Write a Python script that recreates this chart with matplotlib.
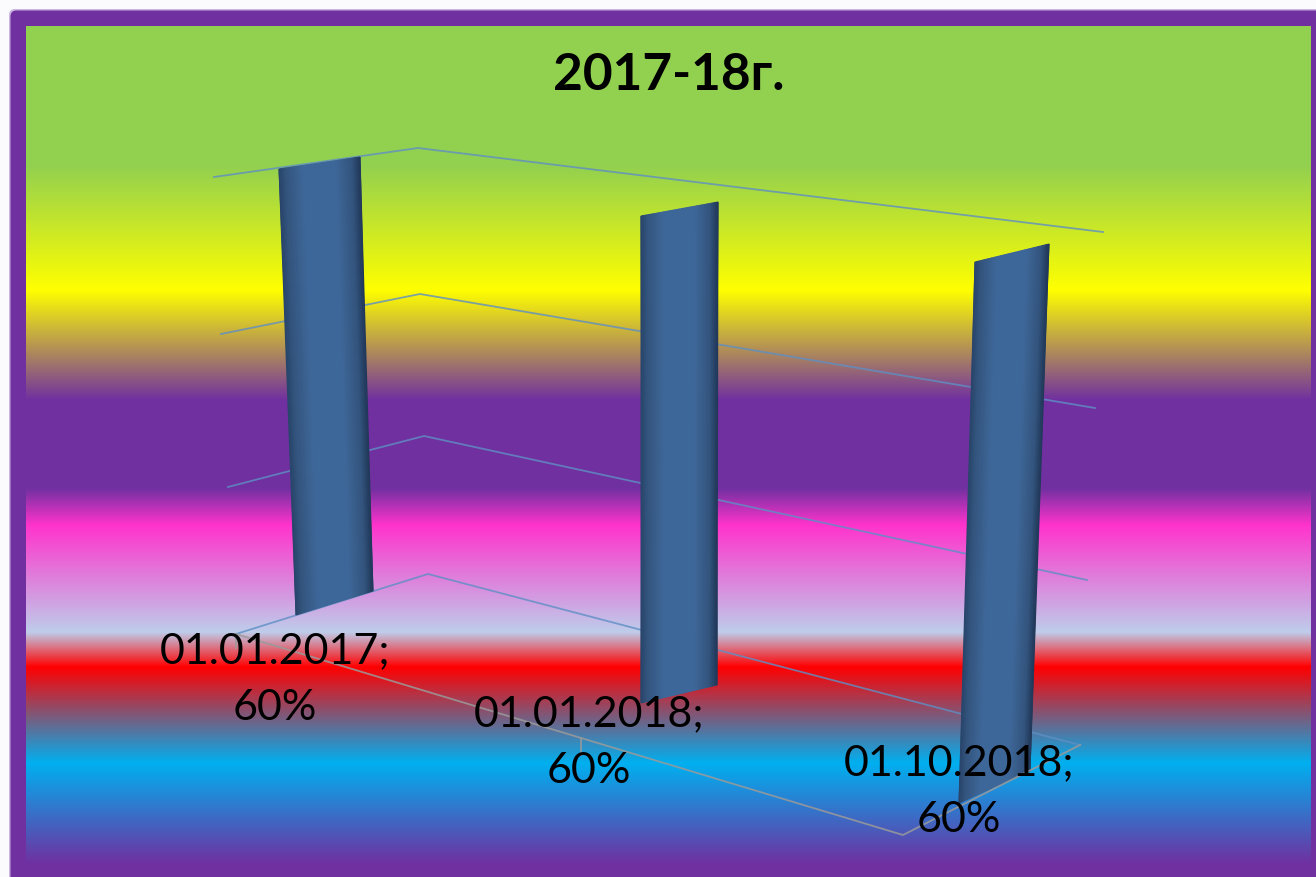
import numpy as np
import matplotlib
matplotlib.use("Agg")
import matplotlib.pyplot as plt
from matplotlib.colors import LinearSegmentedColormap
from matplotlib.patches import FancyBboxPatch

# ---- data ----
title = "2017-18г."
categories = ["01.01.2017", "01.01.2018", "01.10.2018"]
values = [60, 60, 60]
axis_ticks = [0, 20, 40, 60]

# ---- layout (pixel geometry of the 3-D projection) ----
W, H = 1316, 877
wall_px = {60: [(214, 177), (418, 148), (1103, 232)],
           40: [(221, 334), (420, 294), (1095, 408)],
           20: [(228, 487), (424, 436), (1087, 580)],
           0:  [(236, 634), (428, 574), (1080, 745)]}
floor_px = [(236, 634), (903, 835), (1080, 745)]
tick_px = [((236, 634), (236, 648)), ((581, 738), (581, 755))]
bar_base = [((296, 615), (373, 591)), ((641, 703), (717, 685)), ((959, 803), (1030, 771))]
bar_top = [((279, 169), (360, 157)), ((641, 216), (718, 202)), ((975, 262), (1049, 244))]
label_px = [(275, 680), (589, 743), (959, 792)]
panel = (26, 26, 1311, 864)

bg_stops = [(26, (146, 208, 80)), (165, (146, 208, 80)), (290, (255, 255, 0)),
            (400, (112, 48, 160)), (488, (112, 48, 160)), (525, (255, 51, 204)),
            (632, (190, 205, 235)), (667, (255, 0, 0)), (763, (0, 176, 240)),
            (864, (112, 48, 160))]
purple = "#7030A0"
shade_pos = [0, .08, .3, .7, .9, 1]
shade_col = [(.16, .27, .42), (.20, .33, .49), (.245, .405, .60),
             (.245, .405, .60), (.20, .33, .49), (.13, .22, .35)]
bar_cmap = LinearSegmentedColormap.from_list("bar", list(zip(shade_pos, shade_col)), N=512)

plt.rcParams["font.family"] = ["Lato", "DejaVu Sans"]
fig = plt.figure(figsize=(W / 100, H / 100), dpi=100, facecolor="#FBFBFD")
ax = fig.add_axes([0, 0, 1, 1])
ax.axis("off")

# frame
ax.add_patch(FancyBboxPatch((9, 9), W + 30, H + 30, boxstyle="round,pad=0,rounding_size=6",
                            fc="#C9B4E0", ec="none", zorder=0))
ax.add_patch(FancyBboxPatch((10.5, 10.5), W + 30, H + 30, boxstyle="round,pad=0,rounding_size=6",
                            fc=purple, ec="none", zorder=0.5))

# background gradient
ys = np.arange(panel[1], panel[3]) + 0.5
sp = [s[0] for s in bg_stops]
grad = np.stack([np.interp(ys, sp, [s[1][c] / 255 for s in bg_stops]) for c in range(3)], axis=1)[:, None, :]
grad = np.repeat(grad, 4, axis=1)
ax.imshow(grad, extent=(panel[0], panel[2], panel[3], panel[1]), aspect="auto", zorder=1,
          interpolation="nearest")
ax.set_xlim(0, W)
ax.set_ylim(H, 0)

# wall gridlines
for t in axis_ticks:
    xs, yy = zip(*wall_px[t])
    ax.plot(xs, yy, color="#5F8FC4", lw=1.3, alpha=.8, zorder=2, solid_joinstyle="miter")

# bars, with a cylinder-like shading across the width
top_tick = max(axis_ticks)
for v, base, top in zip(values, bar_base, bar_top):
    bl, br = np.array(base[0], float), np.array(base[1], float)
    tl = bl + (np.array(top[0], float) - bl) * v / top_tick
    tr = br + (np.array(top[1], float) - br) * v / top_tick
    f = np.linspace(0, 1, 41)
    X = np.vstack([bl[0] + (br[0] - bl[0]) * f, tl[0] + (tr[0] - tl[0]) * f])
    Y = np.vstack([bl[1] + (br[1] - bl[1]) * f, tl[1] + (tr[1] - tl[1]) * f])
    C = np.vstack([f, f])
    ax.pcolormesh(X, Y, C, shading="gouraud", cmap=bar_cmap, vmin=0, vmax=1, zorder=3)
ax.set_xlim(0, W)
ax.set_ylim(H, 0)

# floor edges and ticks
xs, yy = zip(*floor_px)
ax.plot(xs, yy, color="#9A9A9A", lw=1.3, alpha=.85, zorder=4, solid_joinstyle="miter")
for p, q in tick_px:
    ax.plot([p[0], q[0]], [p[1], q[1]], color="#9A9A9A", lw=1.3, alpha=.85, zorder=4)

# text
ax.text(669, 76, title, fontsize=37, fontweight="bold", color="black", ha="center", va="center", zorder=6)
for c, v, (x, y) in zip(categories, values, label_px):
    ax.text(x, y, f"{c};\n{v}%", fontsize=31, color="black", ha="center", va="center",
            linespacing=1.6, zorder=6)

fig.savefig("out.png", dpi=100, facecolor=fig.get_facecolor())
